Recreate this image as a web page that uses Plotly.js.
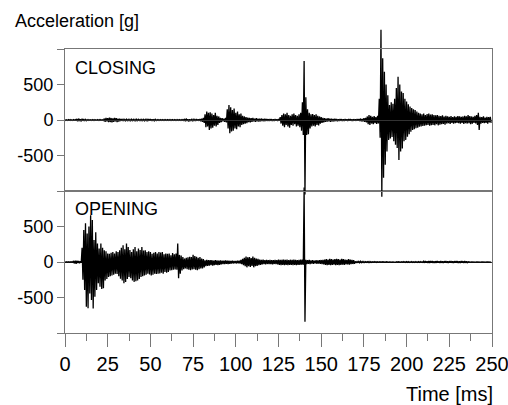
<!DOCTYPE html>
<html>
<head>
<meta charset="utf-8">
<script src="https://cdn.plot.ly/plotly-3.0.1.min.js"></script>
<style>html,body{margin:0;padding:0;background:#fff;}#chart{width:508px;height:405px;}</style>
</head>
<body>
<div id="chart"></div>
<script>
// Signal envelopes, one value per 1 ms bin (0..249 ms).
// hi = positive peak in the bin, lo = negative peak in the bin (acceleration, g)
const closingHi = [
  5,4,6,5,4,6,5,15,20,12,
  18,14,8,5,6,4,5,6,4,5,
  6,5,4,20,30,25,35,28,22,30,
  25,20,18,15,10,8,10,9,8,10,
  8,9,10,8,7,8,9,8,10,12,
  15,10,12,8,6,5,6,5,6,5,
  6,5,6,5,6,5,6,5,6,5,
  15,20,12,10,8,10,8,12,10,15,
  20,30,80,120,100,110,90,70,100,60,
  50,30,25,20,30,150,210,180,140,160,
  100,120,80,90,60,50,40,35,30,25,
  30,20,25,20,18,20,15,18,15,12,
  15,12,10,12,10,12,40,70,90,80,
  100,70,60,80,90,70,60,80,100,250,
  830,320,150,100,80,85,70,80,60,50,
  40,30,25,20,25,20,18,15,18,15,
  12,15,12,10,12,10,12,15,10,12,
  10,15,12,20,15,25,30,50,70,60,
  45,55,40,60,300,1270,870,680,500,350,
  210,250,230,300,450,610,500,400,380,300,
  260,220,190,170,150,140,120,100,90,80,
  90,70,85,90,75,80,70,65,70,60,
  55,65,50,60,50,45,55,40,50,45,
  55,50,45,50,60,50,70,55,50,45,
  60,70,100,45,40,50,35,45,40,45
];
const closingLo = [
  -5,-6,-4,-5,-6,-4,-5,-18,-15,-20,
  -12,-15,-10,-6,-4,-5,-6,-5,-4,-6,
  -5,-4,-6,-25,-20,-30,-28,-35,-25,-20,
  -30,-22,-15,-12,-8,-10,-9,-8,-10,-8,
  -9,-10,-8,-7,-9,-8,-10,-8,-9,-10,
  -12,-15,-10,-8,-5,-6,-5,-6,-5,-6,
  -5,-6,-5,-6,-5,-6,-5,-6,-5,-6,
  -18,-15,-20,-12,-10,-8,-12,-10,-12,-18,
  -25,-40,-100,-90,-140,-120,-110,-80,-90,-70,
  -40,-30,-20,-25,-35,-120,-185,-160,-150,-120,
  -130,-90,-100,-70,-60,-50,-45,-30,-35,-25,
  -20,-25,-18,-22,-20,-15,-18,-15,-12,-15,
  -12,-15,-12,-10,-12,-10,-50,-80,-100,-70,
  -90,-110,-70,-80,-60,-90,-80,-100,-150,-210,
  -1050,-210,-200,-120,-90,-80,-90,-70,-75,-50,
  -40,-35,-25,-22,-20,-25,-18,-20,-15,-18,
  -15,-12,-15,-12,-10,-12,-10,-12,-15,-10,
  -12,-10,-15,-18,-20,-25,-35,-60,-70,-50,
  -60,-45,-55,-50,-250,-1080,-815,-630,-445,-280,
  -260,-240,-300,-350,-395,-565,-445,-400,-300,-280,
  -235,-200,-165,-140,-130,-115,-110,-95,-90,-85,
  -80,-75,-70,-80,-75,-70,-75,-60,-75,-65,
  -60,-55,-65,-50,-45,-55,-40,-50,-45,-40,
  -45,-50,-40,-55,-45,-50,-45,-60,-50,-40,
  -50,-70,-140,-50,-40,-45,-40,-50,-35,-40
];
const openingHi = [
  3,4,3,4,3,15,20,18,15,10,
  200,450,545,400,500,660,590,310,420,260,
  190,260,200,165,150,120,115,130,140,120,
  150,140,165,200,235,180,260,210,170,140,
  180,210,150,190,170,210,160,165,140,150,
  140,115,130,140,120,140,135,140,110,120,
  115,120,95,125,110,120,260,100,90,70,
  50,60,65,75,70,100,85,75,60,70,
  50,40,25,30,25,28,25,20,25,22,
  20,22,18,20,22,18,20,15,18,15,
  15,18,20,30,45,60,75,65,70,55,
  75,60,50,45,35,30,32,28,30,25,
  30,28,25,30,28,35,30,32,35,30,
  35,28,32,30,35,30,28,30,32,35,
  1050,30,25,28,22,25,20,25,22,25,
  28,30,35,40,35,45,40,35,40,45,
  40,35,45,40,35,30,40,35,30,25,
  8,6,8,10,6,8,5,6,8,5,
  4,5,3,4,3,4,3,2,3,2,
  2,3,2,3,4,3,2,3,5,4,
  6,5,4,6,3,5,4,6,5,4,
  12,15,10,14,12,15,10,12,15,10,
  14,10,12,15,10,12,14,10,12,15,
  12,10,14,12,15,10,3,2,1,1,
  1,1,1,1,1,1,1,1,1,1
];
const openingLo = [
  -3,-4,-3,-4,-3,-20,-25,-15,-18,-10,
  -250,-395,-630,-650,-445,-535,-655,-490,-395,-300,
  -350,-380,-370,-260,-240,-210,-200,-190,-180,-165,
  -170,-200,-235,-260,-300,-280,-240,-210,-230,-260,
  -280,-270,-260,-240,-210,-200,-190,-180,-165,-175,
  -190,-180,-165,-170,-165,-160,-150,-165,-140,-150,
  -140,-120,-115,-110,-105,-110,-230,-165,-120,-100,
  -90,-100,-110,-115,-105,-100,-110,-115,-100,-90,
  -90,-75,-60,-55,-50,-45,-50,-45,-40,-45,
  -40,-35,-30,-28,-25,-28,-25,-22,-20,-18,
  -20,-18,-22,-30,-45,-60,-75,-60,-70,-55,
  -75,-60,-55,-45,-40,-35,-30,-32,-28,-30,
  -30,-32,-28,-30,-35,-40,-45,-40,-45,-40,
  -45,-40,-42,-45,-40,-45,-42,-40,-38,-40,
  -840,-30,-25,-28,-22,-25,-20,-25,-22,-25,
  -30,-35,-40,-45,-40,-45,-40,-38,-45,-42,
  -45,-40,-38,-42,-35,-32,-38,-30,-28,-25,
  -8,-6,-10,-8,-6,-8,-5,-6,-8,-5,
  -4,-3,-5,-3,-4,-3,-2,-3,-2,-3,
  -2,-3,-2,-4,-3,-2,-3,-4,-3,-5,
  -5,-6,-4,-5,-6,-4,-5,-6,-4,-5,
  -12,-10,-15,-12,-10,-14,-15,-12,-10,-14,
  -12,-15,-10,-12,-14,-10,-12,-15,-10,-12,
  -14,-12,-10,-15,-12,-10,-2,-1,-1,-1,
  -1,-1,-1,-1,-1,-1,-1,-1,-1,-1
];
const binWidthMs = 1;
const xTickVals = [0,25,50,75,100,125,150,175,200,225,250];
const yTickVals = [-1000,-500,0,500,1000];
const yTickText = ['','-500','0','500',''];
const panelLabels = ['CLOSING','OPENING'];

// interleave the peaks of each bin into a continuous trace
function trace(hi, lo, yaxis) {
  const x = [], y = [];
  for (let i = 0; i < hi.length; i++) {
    x.push(i * binWidthMs); y.push(hi[i]);
    x.push(i * binWidthMs + binWidthMs / 2); y.push(lo[i]);
  }
  return {type:'scatter', mode:'lines', x:x, y:y, xaxis:'x', yaxis:yaxis,
          line:{color:'#000', width:1.3}, hoverinfo:'skip', showlegend:false};
}

// layout geometry
const M = {l:65, r:16, t:5, b:72};
const plotH = 405 - M.t - M.b;            // 328
const split = 142 / plotH;                // boundary between panels
const topEnd = 284 / plotH;               // top of upper panel
const YR = 1000;
function fullRange(d0, d1) {              // range of a [0,1] axis that matches a panel
  const s = 2 * YR / (d1 - d0);
  return [-YR - d0 * s, YR + (1 - d1) * s];
}
const FONT = 'Liberation Sans, Arial, sans-serif';
const LC = '#777';

function yAxis(domain, anchor) {
  return {domain:domain, anchor:anchor, range:[-YR, YR], tickmode:'array',
    tickvals:yTickVals, ticktext:yTickText, ticks:'outside', ticklen:7, tickcolor:LC,
    showline:true, linecolor:LC, linewidth:1, mirror:true, showgrid:false,
    zeroline:true, zerolinecolor:'#333', zerolinewidth:1, automargin:false,
    tickfont:{family:FONT, size:18, color:'#000'}, fixedrange:true};
}

const data = [
  {type:'scatter', x:[], y:[], xaxis:'x2', yaxis:'y', showlegend:false, hoverinfo:'skip'},
  {type:'scatter', x:[], y:[], xaxis:'x', yaxis:'y2', showlegend:false, hoverinfo:'skip'},
  trace(closingHi, closingLo, 'y3'),
  trace(openingHi, openingLo, 'y4')
];

const layout = {
  width:508, height:405, margin:M, paper_bgcolor:'#fff', plot_bgcolor:'rgba(0,0,0,0)',
  showlegend:false,
  xaxis:{domain:[0,1], anchor:'y2', range:[0,250], tickmode:'array', tickvals:xTickVals,
    ticks:'outside', ticklen:13, tickcolor:LC, showline:true, linecolor:LC, mirror:true,
    showgrid:false, zeroline:false, automargin:false, ticklabeloverflow:'allow',
    minor:{dtick:12.5, tick0:0, ticks:'outside', ticklen:7, tickcolor:LC, showgrid:false},
    tickfont:{family:FONT, size:20, color:'#000'}, fixedrange:true},
  xaxis2:{matches:'x', anchor:'y', showline:true, linecolor:LC, mirror:true, ticks:'',
    showticklabels:false, showgrid:false, zeroline:false, fixedrange:true},
  yaxis: yAxis([split, topEnd], 'x2'),
  yaxis2: yAxis([0, split], 'x'),
  yaxis3:{domain:[0,1], anchor:'free', position:0, visible:false,
    range:fullRange(split, topEnd), fixedrange:true},
  yaxis4:{domain:[0,1], anchor:'free', position:0, visible:false,
    range:fullRange(0, split), fixedrange:true},
  annotations:[
    {text:'Acceleration [g]', xref:'paper', yref:'paper', x:(13-65)/427, y:(333-21)/plotH,
     xanchor:'left', yanchor:'middle', showarrow:false, font:{family:FONT, size:18, color:'#000'}},
    {text:'Time [ms]', xref:'paper', yref:'paper', x:(495-65)/427, y:(333-394)/plotH,
     xanchor:'right', yanchor:'middle', showarrow:false, font:{family:FONT, size:20, color:'#000'}},
    {text:panelLabels[0], xref:'paper', yref:'paper', x:(73-65)/427, y:(333-68)/plotH,
     xanchor:'left', yanchor:'middle', showarrow:false, font:{family:FONT, size:18, color:'#000'}},
    {text:panelLabels[1], xref:'paper', yref:'paper', x:(73-65)/427, y:(333-209)/plotH,
     xanchor:'left', yanchor:'middle', showarrow:false, font:{family:FONT, size:18, color:'#000'}}
  ]
};

Plotly.newPlot('chart', data, layout, {staticPlot:true, displayModeBar:false});
</script>
</body>
</html>
